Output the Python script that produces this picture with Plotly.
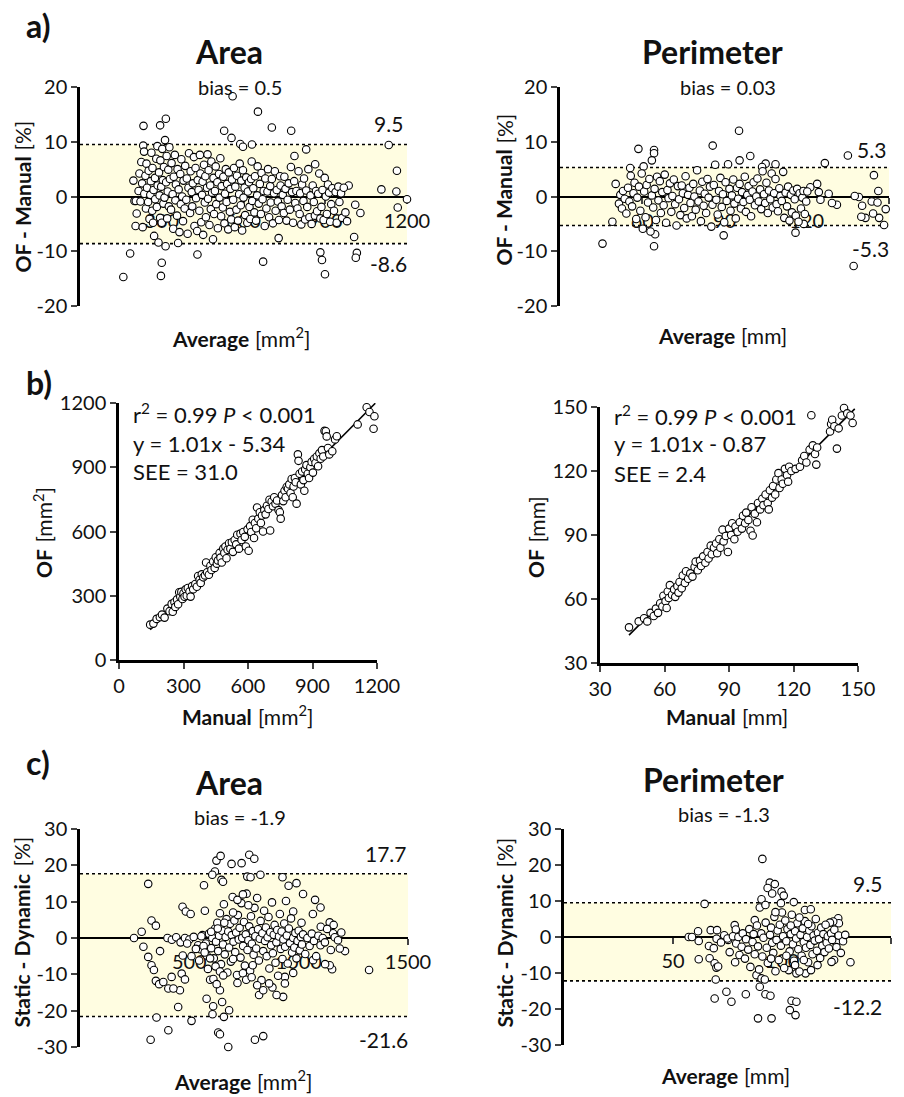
import plotly.graph_objects as go

W, H = 904, 1097
FONT = "Lato"

# ---------------- DATA ----------------
# a) Bland-Altman OF - Manual, Area  (average mm^2, difference %)
a_area_pts = [
    (159,-14.7),(184,-10.4),(233,12.9),(294,13.0),(315,14.2),(300,-12.1),(297,-14.5),(560,18.3),(653,15.5),
    (704,12.6),(775,12.0),(529,12.0),(556,10.7),(631,9.5),(588,9.6),(598,9.1),(431,-10.6),(672,-11.9),
    (882,-10.2),(888,-11.6),(899,-14.2),(1006,-7.4),(1016,-10.3),(1012,-11.2),(1133,9.4),(1163,4.7),
    (1161,0.9),(1166,-2.0),(1200,-0.5),(1106,1.3),(986,2.0),(1010,-1.5),(1029,-3.0),(863,5.9),(830,8.6),
    (787,7.4),(729,-7.6),
    (196,2.9),(200,-0.8),(205,-0.8),(204,-5.4),(208,-3.1),(215,1.0),(218,4.2),(222,-0.9),(225,6.3),(228,2.4),
    (230,-5.6),(232,9.3),(235,8.2),(236,0.5),(240,3.8),(242,-2.2),(244,6.0),(246,1.6),(250,-1.0),(252,4.7),
    (255,-4.1),(258,0.3),(260,2.8),(262,8.0),(265,-2.6),(266,5.2),(268,-4.8),(270,1.2),(272,-7.2),(275,3.4),
    (276,-0.5),(280,6.9),(282,-1.9),(284,9.2),(285,2.0),(288,-8.4),(290,4.4),(292,0.2),(294,-3.9),(295,6.6),
    (298,1.8),(300,-4.8),(302,8.7),(304,3.0),(306,-1.3),(308,5.4),(310,-0.2),(312,10.3),(314,-9.1),(316,2.6),
    (318,7.4),(320,-4.0),(322,0.9),(324,4.9),(326,-1.8),(328,9.0),(330,3.2),
    (334,-2.4),(336,6.1),(340,0.4),(342,-5.9),(344,3.6),(348,7.6),(350,-0.7),(352,2.2),(356,-3.5),(358,5.0),
    (360,-8.5),(362,1.3),(365,-6.5),(368,4.1),(370,-1.4),(372,6.8),(375,0.0),(378,-4.5),(380,2.9),(384,-2.2),
    (386,5.6),(390,-0.6),(392,3.3),(395,-6.8),(398,1.6),(400,7.9),(404,-3.0),(406,4.6),(410,0.8),(412,-1.8),
    (414,2.4),(418,7.2),(420,-5.4),(424,5.2),(426,-0.3),(430,-6.3),(432,3.0),(435,1.2),(438,-2.6),(440,7.6),
    (442,4.2),(445,-4.7),(448,0.3),(450,2.7),(452,-7.0),(455,5.8),(458,-1.1),(460,3.7),(462,-3.8),(466,1.6),
    (468,7.7),(470,-0.4),(472,4.8),(475,-5.2),(478,2.0),(480,-2.3),(482,6.4),(485,0.7),(488,-7.8),(490,3.4),
    (492,-3.2),(495,1.0),(498,5.5),(500,-1.4),(504,2.6),(506,-5.8),(510,4.1),(512,-0.2),(515,7.0),(518,-3.6),
    (520,1.9),(524,-2.0),(526,3.6),(530,-4.9),(532,0.5),(535,5.0),(538,-1.0),(540,2.3),(544,-6.0),(546,4.4),
    (550,-2.8),(552,1.4),(555,-4.2),(558,3.1),
    (562,-0.6),(565,5.2),(568,-5.6),(570,1.8),(574,-2.4),(576,3.8),(580,-4.4),(584,0.4),(586,6.0),(590,-1.6),
    (592,2.9),(595,-6.2),(598,4.8),(600,-0.2),(604,1.6),(606,-3.4),(610,3.5),(614,-4.8),(616,0.9),(620,2.6),
    (622,-1.9),(625,-4.1),(628,3.2),(630,6.4),(632,-0.8),(636,1.5),(640,-2.9),(642,3.7),(646,-4.4),(650,0.2),
    (652,5.5),(656,-1.3),(660,2.3),(664,-3.2),(666,4.3),(670,-0.5),(674,1.0),(678,-5.4),(680,3.3),(684,-2.2),
    (688,0.9),(690,5.0),(694,-3.8),(698,1.9),(700,-1.1),(704,3.2),(708,-4.9),(712,0.6),(715,4.6),(718,-2.6),
    (722,1.2),(726,-0.9),(730,-4.3),(734,3.7),(736,2.0),(740,-1.8),(744,0.3),(748,-3.0),(750,3.6),(754,1.4),
    (758,-4.4),(762,-0.6),(766,2.4),(770,-2.4),(774,5.4),(778,0.8),(782,-4.8),(786,2.8),(790,-1.2),(794,1.0),
    (798,-2.2),
    (802,4.6),(806,-3.2),(808,0.6),(812,-5.1),(815,2.2),(820,-0.8),(822,3.3),(826,-4.2),(830,1.1),(834,-1.9),
    (838,5.0),(842,-3.8),(846,0.2),(850,-5.0),(854,2.0),(858,-1.0),(862,-3.5),(866,1.0),(870,-2.7),(874,0.5),
    (878,4.2),(882,-4.0),(886,-1.9),(890,1.2),(894,-4.3),(898,3.4),(902,0.0),(906,-3.2),(910,2.2),(914,0.7),
    (918,-4.6),(922,-1.4),(926,1.5),(932,-2.6),(938,0.8),(942,-4.8),(948,1.8),(952,-1.0),(958,0.6),(962,-3.9),
    (968,1.6),(974,-2.9),(980,-4.5),
]
a_area_bias, a_area_upper, a_area_lower = 0.5, 9.5, -8.6

# a) Perimeter (average mm, difference %)
a_perim_pts = [
    (45.5,-8.6),(49.1,-4.6),(50.3,2.3),(58.6,8.7),(64.3,8.5),(64.3,7.9),(63.5,6.6),(60.5,5.5),(55.6,5.2),
    (64.3,-9.1),(64.7,-6.9),(85.7,9.3),(95.3,12.0),(95.5,6.6),(99.4,7.4),(89.7,-7.1),(126.6,6.1),(135.0,7.5),
    (137.1,-12.7),(144.5,3.9),(146.1,1.0),(148.8,-2.3),(148.2,-5.2),(146.4,-3.9),(144.2,-3.1),(140.2,-1.7),
    (139.0,-0.1),(137.5,0.1),(141.4,-3.9),(139.9,-3.7),(143.7,-0.9),(145.8,-1.1),(131.0,-1.5),(129.2,-1.2),
    (128.0,0.5),(124.4,0.8),(123.8,2.3),(121.3,1.7),(125.0,-0.6),(115.9,-6.6),(118.9,-5.0),(108.6,5.9),
    (105.0,6.0),(103.7,5.4),
    (51.5,-1.3),(52,0.3),(52.6,-2.2),(53,1.0),(53.6,-0.4),(54.2,-3.1),(54.8,1.6),(55.3,-0.9),(55.8,3.8),
    (56.3,-1.8),(56.8,0.6),(57.2,2.5),(57.8,-4.1),(58.2,-0.2),(58.8,1.8),(59.3,-2.6),(59.8,4.2),(60.2,-5.9),
    (60.7,0.9),(61.2,-3.8),(61.6,2.1),(62.1,-1.1),(62.6,3.2),(63,-6.4),(63.5,0.2),(64,-2.0),(64.5,1.4),
    (65,-4.3),(65.4,3.6),(65.9,-0.7),(66.4,2.8),(66.8,-3.0),(67.3,0.8),(67.8,-1.6),(68.2,4.0),(68.7,-4.8),
    (69.2,1.2),(69.6,-0.3),(70.1,2.4),(70.6,-2.8),(71,0.1),(71.5,3.1),(72,-1.4),(72.5,-5.3),(73,1.9),
    (73.4,-0.5),(73.9,-3.4),(74.4,2.0),(74.8,0.6),(75.3,-2.1),(75.8,3.7),(76.2,-4.0),(76.7,0.3),(77.2,1.6),
    (77.6,-1.2),(78.1,-3.6),(78.6,2.3),(79,0.0),(79.5,-2.4),(80,4.8),(80.5,-0.9),(81,1.1),(81.4,-4.5),
    (81.9,2.7),(82.4,-1.7),(82.8,0.5),(83.3,-3.0),(83.8,3.2),(84.2,-0.2),(84.7,1.8),(85.2,-5.5),(85.6,-1.5),
    (86.1,2.1),(86.6,5.8),(87,-0.6),(87.5,-3.3),(88,1.0),(88.5,3.4),(89,-1.9),(89.4,0.4),(89.9,-4.7),
    (90.4,2.6),(90.8,-0.8),(91.3,5.9),(91.8,1.4),(92.2,-2.6),(92.7,0.2),(93.2,3.1),(93.6,-1.3),(94.1,-4.0),
    (94.6,1.6),(95,-0.4),(95.5,2.3),(96,-2.2),(96.4,0.8),(96.9,-1.0),(97.4,3.6),(97.8,-2.8),(98.3,0.3),
    (98.8,1.9),(99.2,-0.6),(99.7,-3.6),(100.2,0.9),(100.6,2.6),(101.1,-1.6),(101.6,0.0),(102,3.3),
    (102.5,-0.9),(103,1.3),(103.4,-2.3),(103.9,4.6),(104.4,0.4),(104.8,-1.2),(105.3,2.5),(105.8,-3.0),
    (106.2,1.1),(106.7,-0.5),(107.2,4.2),(107.6,-2.0),(108.1,0.6),(108.6,3.2),(109,-1.4),(109.5,-2.7),
    (110,1.5),(110.4,0.1),(110.9,-0.8),(111.4,4.5),(111.8,-3.9),(112.3,0.7),(112.8,-1.8),(113.2,1.8),
    (113.7,-4.4),(114.2,0.3),(114.6,-2.9),(115.1,1.1),(115.6,-0.5),(116,-3.5),(116.5,1.4),(117,-4.6),
    (117.4,0.6),(117.9,-2.2),(118.4,-0.2),(118.8,1.0),(119.3,-3.2),(119.8,-0.9),(120.2,0.9),
]
a_perim_bias, a_perim_upper, a_perim_lower = 0.03, 5.3, -5.3

# b) Regression OF vs Manual, Area (mm^2)
b_area_pts = [
    (145,165),(160,170),(175,192),(190,200),(200,212),(212,198),(225,240),(235,228),(245,262),(250,225),
    (258,270),(262,248),(270,283),(275,260),(280,316),(285,295),(290,318),(295,285),(300,312),(305,295),
    (310,330),(315,300),(320,336),(328,320),(333,296),(340,345),(345,330),(355,355),(362,342),(368,392),
    (375,375),(380,360),(385,400),(392,386),(400,395),(405,455),(410,410),(418,398),(425,440),(430,420),
    (438,460),(445,430),(450,480),(455,450),(460,465),(468,500),(472,478),(478,455),(485,520),(490,500),
    (495,530),(500,475),(505,515),(512,545),(518,520),(525,550),(530,505),(538,560),(545,540),(550,585),
    (558,520),(565,590),(570,560),(578,598),(585,575),(590,530),(598,610),(603,510),(610,625),(615,598),
    (622,655),(628,570),(632,640),(638,615),(642,712),(648,660),(655,690),(660,640),(665,675),(670,600),
    (676,700),(682,680),(688,720),(695,705),(700,748),(703,605),(710,740),(716,718),(722,760),(728,730),
    (735,745),(742,700),(748,690),(752,660),(758,770),(764,742),(770,790),(775,760),(780,808),(786,800),
    (792,820),(798,780),(803,845),(808,760),(812,810),(818,850),(822,830),(826,730),(832,960),(835,930),
    (840,870),(846,820),(852,880),(858,840),(862,790),(866,890),(872,910),(878,870),(884,850),(890,900),
    (896,925),(902,875),(908,940),(914,920),(920,950),(926,905),(932,965),(938,940),(944,980),(950,950),
    (956,1070),(962,1068),(966,1044),(972,990),(978,960),(992,975),(1005,1030),(1013,1045),(1110,1100),
    (1152,1180),(1165,1158),(1188,1138),(1184,1080),
]
b_area_fit = dict(slope=1.01, intercept=-5.34, x_from=145, x_to=1192)

# b) Regression OF vs Manual, Perimeter (mm)
b_perim_pts = [
    (43.5,46.7),(48,49.5),(50.5,51),(52,49.5),(53.5,53.5),(55,52),(56,55.5),(57,53.5),(58,58),(59,56.5),
    (59.5,61.5),(60.5,59),(61,55.8),(61.5,63.5),(62,60.5),(62.5,66.5),(63.5,62),(64.5,64.5),(65,61),(66,66),
    (66.5,63),(67,68),(68,65),(68.5,71),(69.5,67.5),(70,73),(71,69.5),(72,72),(73,70.5),(74,75),(74.5,77.5),
    (75.5,73.5),(76.5,78),(77,75.5),(78,80),(79,77),(80,82),(80.5,79),(81.5,85),(82,81),(83,84),(84,86),
    (84.5,81.5),(85.5,88),(86,84),(87,92.5),(87.5,87),(88.5,89.5),(89.5,82),(90,93),(91,90),(91.5,95.5),
    (92.5,88),(93,94),(94,91.5),(95,96),(96,93),(96.5,99),(97.5,95.5),(98,100.5),(99,97),(100,92),
    (100.5,103),(101,89.8),(102,100),(103,96),(103.5,105),(104.5,102),(105.5,107),(106,104),(107,109),
    (108,105),(108.5,102),(109,111),(110,107.5),(110.5,113),(111.5,109),(112,116),(113,119),(113.5,112),
    (114.5,116),(115,114),(116,121),(117,118),(117.5,115),(118,122),(119,120),(121,121),(123,122),(124,125),
    (125,127),(126,124),(127.5,130),(128.3,146.1),(129,132),(130,128),(130.6,123),(131,131),(137,138.5),
    (137.5,142),(138,144),(139,141),(140.2,130.5),(141,140),(142.5,146),(143.5,149.5),(145,147),
    (146.5,146),(147.5,142.5),
]
b_perim_fit = dict(slope=1.01, intercept=-0.87, x_from=43.5, x_to=148.5)

# c) Bland-Altman Static - Dynamic, Area (average mm^2, difference %)
c_area_pts = [
    (247,0),(282,1.7),(290,-2.4),(312,14.9),(327,4.8),(347,3.4),(312,-5.2),(327,-7.5),(338,-8.8),(347,-11.8),
    (362,-12.7),(350,-21.9),(323,-28),(404,-25.4),(366,-3.6),(381,-12.1),(404,-13.9),(419,-10.7),(449,-19),
    (510,-22.8),(469,8.6),(484,7.3),(506,6.6),(465,-9.8),(480,-11.4),(457,-14.4),(427,-13.9),(567,14.5),
    (571,7.5),(579,-16.7),(609,-18.8),(606,-21),(640,-14.4),(650,-17.6),(658,-21.7),(682,-19.9),(632,-26),
    (640,-26.5),(678,-30),(624,21.3),(643,22.6),(617,18.3),(605,17.4),(647,16),(654,15.5),(693,20.4),
    (739,20.6),(774,22.9),(797,21.8),(765,16.9),(780,16.7),(825,17.4),(800,-28),(838,-27),(926,16.7),
    (954,14.4),(990,15.1),(1020,12.1),(1075,10.5),(1100,8.4),(1065,6.6),(1013,4.2),(975,7.3),(1322,-8.8),
    (1212,-3.6),(1188,-2.9),(1195,1.5),(1157,1.3),(1142,4.3),(1160,3.6),(1101,3.1),(1153,-8.6),(1142,-7.5),
    (1121,-7.2),(1147,-3.3),(1066,-6.1),(929,-16.2),(899,-15.7),(880,-13.6),(865,-12.5),(937,-10.7),
    (975,-9.6),(937,-12.5),(819,-15.7),(838,-14.4),
    (400,0),(420,-0.5),(440,0.2),(460,-1.2),(480,0),(500,-0.4),(520,0.3),(540,-2.0),(550,-3.1),(560,0.8),
    (575,-1.5),(580,-4.8),(590,1.2),(600,-2.8),(605,0.0),(612,-5.6),(618,2.6),(622,-1.0),(628,4.2),
    (632,-3.6),(636,0.6),(640,6.8),(645,-7.2),(650,2.0),(654,-1.8),(658,9.3),(662,-4.5),(666,0.3),(670,5.2),
    (674,-9.5),(678,1.8),(682,-2.6),(686,3.9),(690,-6.5),(694,0.8),(698,11.3),(702,-1.0),(706,4.8),
    (710,-3.9),(714,1.5),(718,-10.2),(722,6.3),(726,-0.4),(730,2.8),(734,-5.4),(738,9.6),(742,0.0),
    (746,-2.2),(750,4.4),(754,-7.6),(758,1.0),(762,12.2),(766,-3.3),(770,-0.6),(774,3.2),(778,-9.0),
    (782,6.0),(786,-1.6),(790,1.9),(794,-4.6),(798,8.3),(802,0.5),(806,-2.9),(810,11.0),(814,2.4),
    (818,-6.2),(822,-0.2),(826,4.7),(830,-11.6),(834,1.3),(838,-3.6),(842,7.5),(846,-0.8),(850,2.9),
    (854,-5.0),(858,0.2),(862,5.8),(866,-8.4),(870,1.6),(874,-2.0),(878,9.8),(882,-4.2),(886,0.9),(890,3.6),
    (894,-6.8),(898,-1.2),(902,2.2),(906,-10.4),(910,0.4),(914,6.6),(918,-3.0),(922,1.8),(926,-5.8),
    (930,-0.4),(934,4.0),(938,-2.4),(942,10.2),(946,0.7),(950,-7.0),(955,2.6),(960,-1.4),(965,5.4),
    (970,-4.0),(975,0.0),(980,-2.6),(985,1.4),(990,-5.6),(995,-0.8),(1000,2.0),(1005,-3.4),(1010,0.3),
    (1015,-1.8),(1020,1.0),(1030,-4.4),(1040,0.0),(1050,-2.2),(1060,1.2),(1070,-0.8),(1080,-5.0),(1090,0.6),
    (1100,-2.0),(1110,0.0),(1120,-1.2),(1130,2.5),(1165,0.2),(1180,-0.6),
    (470,-4.8),(490,-1.5),(510,-5.0),(530,-3.0),(545,-6.2),(565,-2.2),(585,-8.5),(595,-11.5),(610,-11.3),
    (620,-7.8),(625,-12.7),(640,-9.2),(655,-10.3),(595,-5.6),(570,-4.0),(555,0.5),(600,1.7),(630,2.6),
    (660,4.2),(700,-5.8),(720,-12.4),(745,-9.7),(760,-11.5),(785,-10.8),(810,-13.0),(700,7.0),(720,10.5),
    (745,12.0),(770,9.0),(790,-7.5),
]
c_area_bias, c_area_upper, c_area_lower = -1.9, 17.7, -21.6

# c) Perimeter (average mm, difference %)
c_perim_pts = [
    (57.2,0),(58.7,0),(61.5,1.6),(61.8,-1.1),(61.8,-6.2),(64.5,9.2),(67.3,1.9),(70.2,1.9),(66.5,-2.5),
    (68.7,-3.1),(66.8,-5.9),(69.1,-7.3),(69.9,-8.5),(70.7,-8.2),(69.6,-11.8),(69.1,-17.1),(74.5,-15.2),
    (76.8,-18),(83.4,-15.9),(89,-22.6),(95.2,-22.6),(104.4,-17.7),(106.6,-18),(103.6,-20.3),(106.2,-21.7),
    (91,21.7),(94.4,15.1),(96.7,14.7),(93.4,13.6),(95.5,12.1),(99.8,12.6),(100.8,11.5),(90.6,10.5),(89.8,8.2),
    (92.4,8.9),(99.5,9.4),(105.4,9.7),(110.5,7.5),(113.2,7.7),(87.5,4.7),(78.3,3.3),(78.8,2.1),(75.3,-0.8),
    (88.3,-10.6),(90.6,-11.5),(92.1,-11.8),(89.8,-13.8),(92.4,-15.9),(94.7,-16.3),(110.8,-10.1),(113.3,-9.2),
    (106.6,-10.1),(103.1,-9.2),(131.4,-7),(125.8,5.2),(126.1,3.8),(123.5,4.3),(122,4),(124.9,-1.5),
    (123.9,-6.4),(122.7,-6.9),(118.1,-4.5),(116.3,-7.8),
    (70,-0.5),(72,-1.5),(73.5,0.5),(75,-0.4),
    (76,-4.2),(77.5,0.2),(78.5,-7.0),(79,-1.8),(80,0.0),(80.5,-5.0),(81.5,-2.7),(82,1.0),(83,-6.0),
    (83.5,-0.6),(84.5,-3.5),(85,2.2),(85.5,-8.3),(86.5,-1.4),(87,0.8),(87.5,-4.8),(88.5,3.2),(89,-2.6),
    (89.5,-9.0),(90.5,1.0),(91,-5.4),(91.5,-0.2),(92.5,4.0),(93,-3.0),(93.5,-7.2),(94.5,0.6),(95,2.6),
    (95.5,-1.6),(96,-4.4),(96.5,5.6),(97.5,-0.8),(98,1.8),(98.5,-6.4),(99,3.4),(99.5,-2.4),(100.5,0.2),
    (101,-8.6),(101.5,4.6),(102,-1.2),(102.5,2.2),(103.5,-4.0),(104,0.8),(104.5,6.2),(105,-2.0),(105.5,-6.6),
    (106,1.6),(106.5,-0.4),(107,3.8),(107.5,-3.4),(108,-9.6),(108.5,0.6),(109,-5.2),(109.5,2.4),(110,-1.4),
    (110.5,4.4),(111,-3.0),(111.5,0.0),(112,-7.0),(112.5,1.8),(113,-2.2),(113.5,3.0),(114,-4.8),(114.5,0.4),
    (115,-1.0),(115.5,5.0),(116,-3.8),(116.5,1.2),(117,-0.6),(117.5,-5.8),(118,2.6),(118.5,-2.4),(119,0.8),
    (119.5,-4.2),(120,3.4),(120.5,-1.6),(121,0.2),(121.5,-3.2),(122.5,1.0),(123,-0.8),(124,2.0),(125,-2.8),
    (126,0.4),(127,-4.4),(128,-1.2),(129,0.6),
    (95,-6.0),(97,-9.5),(100,6.8),(102,-5.2),(104,3.2),(106,-7.8),(108,5.4),(110,-6.4),(112,3.6),(97,6.9),
]
c_perim_bias, c_perim_upper, c_perim_lower = -1.3, 9.5, -12.2

# ---------------- LAYOUT HELPERS ----------------
def fx(p):
    return p / W

def fy(p):
    return 1 - p / H

def lab(v):
    return ("-%g" % abs(v)) if v < 0 else "%g" % v

fig = go.Figure()
marker = dict(size=7.5, color="white", line=dict(color="black", width=1.1))
TICK = 20
tickfont = dict(family=FONT, size=TICK, color="#111")
common_axis = dict(ticks="outside", ticklen=6, tickwidth=2, showline=True, linecolor="black",
                   showgrid=False, zeroline=False, tickfont=tickfont, fixedrange=True, automargin=False)

def add_pts(pts, k):
    xs = [p[0] for p in pts]
    ys = [p[1] for p in pts]
    fig.add_trace(go.Scatter(x=xs, y=ys, mode="markers", marker=marker, cliponaxis=False,
                             xaxis="x%d" % k, yaxis="y%d" % k, showlegend=False, hoverinfo="skip"))

def ba_panel(k, pts, xdom, ydom, xrange, xticks, yrange, yticks, lower, upper):
    xa = "xaxis%d" % k if k > 1 else "xaxis"
    ya = "yaxis%d" % k if k > 1 else "yaxis"
    zero_px = ydom[0] + (ydom[1] - ydom[0]) * (yrange[1] - 0) / (yrange[1] - yrange[0])
    fig.layout[xa] = dict(domain=[fx(xdom[0]), fx(xdom[1])], range=xrange, anchor="free",
                          position=fy(zero_px), tickvals=xticks, ticktext=[lab(v) for v in xticks],
                          linewidth=2, layer="below traces", **common_axis)
    fig.layout[ya] = dict(domain=[fy(ydom[1]), fy(ydom[0])], range=yrange, anchor="x%d" % k,
                          tickvals=yticks, ticktext=[lab(v) for v in yticks], linewidth=2.5,
                          layer="below traces", **common_axis)
    xr, yr = "x%d" % k, "y%d" % k
    fig.add_shape(type="rect", xref=xr, yref=yr, x0=xrange[0], x1=xrange[1], y0=lower, y1=upper,
                  fillcolor="#FFFDE1", line=dict(width=0), layer="below")
    for v in (lower, upper):
        fig.add_shape(type="line", xref=xr, yref=yr, x0=xrange[0], x1=xrange[1], y0=v, y1=v,
                      line=dict(color="black", width=1.6, dash="dot"), layer="below")
    add_pts(pts, k)

def reg_panel(k, pts, fit, xdom, ydom, rng, ticks):
    xa = "xaxis%d" % k
    ya = "yaxis%d" % k
    fig.layout[xa] = dict(domain=[fx(xdom[0]), fx(xdom[1])], range=rng, anchor="y%d" % k,
                          tickvals=ticks, linewidth=2.5, **common_axis)
    fig.layout[ya] = dict(domain=[fy(ydom[1]), fy(ydom[0])], range=rng, anchor="x%d" % k,
                          tickvals=ticks, linewidth=2.5, **common_axis)
    lx = [fit["x_from"], fit["x_to"]]
    ly = [fit["slope"] * v + fit["intercept"] for v in lx]
    fig.add_trace(go.Scatter(x=lx, y=ly, mode="lines", line=dict(color="black", width=1.6),
                             xaxis="x%d" % k, yaxis="y%d" % k, showlegend=False, hoverinfo="skip"))
    add_pts(pts, k)

ba_panel(1, a_area_pts, (80, 407), (87, 306), [0, 1200], [300, 600, 900, 1200], [-20, 20],
         [-20, -10, 0, 10, 20], a_area_lower, a_area_upper)
ba_panel(2, a_perim_pts, (560, 889), (87, 306), [30, 150], [60, 90, 120, 150], [-20, 20],
         [-20, -10, 0, 10, 20], a_perim_lower, a_perim_upper)
reg_panel(3, b_area_pts, b_area_fit, (119, 377), (403, 660), [0, 1200], [0, 300, 600, 900, 1200])
reg_panel(4, b_perim_pts, b_perim_fit, (600, 858), (407, 663), [30, 150], [30, 60, 90, 120, 150])
ba_panel(5, c_area_pts, (80, 408), (829, 1047), [0, 1500], [500, 1000, 1500], [-30, 30],
         [-30, -20, -10, 0, 10, 20, 30], c_area_lower, c_area_upper)
ba_panel(6, c_perim_pts, (564, 891), (829, 1045), [0, 150], [50, 100, 150], [-30, 30],
         [-30, -20, -10, 0, 10, 20, 30], c_perim_lower, c_perim_upper)

# ---------------- TEXT ----------------
def txt(s, x, y, size=18, bold=False, angle=0, xanchor="center", yanchor="middle", color="#111"):
    fig.add_annotation(text=s, x=fx(x), y=fy(y), xref="paper", yref="paper",
                       showarrow=False, xanchor=xanchor, yanchor=yanchor, textangle=angle,
                       font=dict(family=FONT, size=size, color=color, weight="bold" if bold else "normal"))

AX = 21

def xtitle(bold_part, rest, xj, ybottom):
    # bold word ends at xj, unit text starts just after it; baselines share the same bottom
    txt(bold_part, xj - 1, ybottom, size=AX, bold=True, xanchor="right", yanchor="bottom")
    txt(rest, xj + 1, ybottom, size=AX, xanchor="left", yanchor="bottom")

def ytitle(bold_part, rest, xright, yj):
    # rotated text reading bottom-to-top: bold part below the junction, unit above
    txt(bold_part, xright, yj + 1, size=AX, bold=True, angle=-90, xanchor="right", yanchor="top")
    txt(rest, xright, yj - 1, size=AX, angle=-90, xanchor="right", yanchor="bottom")

# panel letters
txt("a)", 24, 26, size=32, bold=True, xanchor="left")
txt("b)", 24, 382, size=32, bold=True, xanchor="left")
txt("c)", 24, 762, size=32, bold=True, xanchor="left")

# titles
txt("Area", 229, 52, size=32, bold=True)
txt("Perimeter", 712, 52, size=32, bold=True)
txt("Area", 229, 782, size=32, bold=True)
txt("Perimeter", 713, 779, size=32, bold=True)

# bias
txt("bias = %s" % a_area_bias, 240, 87, size=20)
txt("bias = %s" % a_perim_bias, 728, 87, size=20)
txt("bias = %s" % c_area_bias, 240, 817, size=20)
txt("bias = %s" % c_perim_bias, 724, 814, size=20)

# limits of agreement
txt("%s" % a_area_upper, 388, 124, size=21)
txt("%s" % a_area_lower, 388, 264, size=21)
txt("%s" % a_perim_upper, 871, 149, size=21)
txt("%s" % a_perim_lower, 870, 248, size=21)
txt("%s" % c_area_upper, 386, 854, size=21)
txt("%s" % c_area_lower, 383, 1039, size=21)
txt("%s" % c_perim_upper, 867, 883, size=21)
txt("%s" % c_perim_lower, 857, 1006, size=21)

# regression stats
txt("r<sup>2</sup> = 0.99 <i>P</i> &lt; 0.001", 131, 413, size=22, xanchor="left")
txt("y = 1.01x - 5.34", 131, 443, size=22, xanchor="left")
txt("SEE = 31.0", 131, 472, size=22, xanchor="left")
txt("r<sup>2</sup> = 0.99 <i>P</i> &lt; 0.001", 612, 415, size=22, xanchor="left")
txt("y = 1.01x - 0.87", 612, 443, size=22, xanchor="left")
txt("SEE = 2.4", 612, 473, size=22, xanchor="left")

# axis titles (x: junction x, bottom y ; y: right edge x, junction y)
xtitle("Average", "[mm<sup>2</sup>]", 252, 353)
xtitle("Average", "[mm]", 738, 350)
xtitle("Manual", "[mm<sup>2</sup>]", 255, 731)
xtitle("Manual", "[mm]", 739, 731)
xtitle("Average", "[mm<sup>2</sup>]", 254, 1096)
xtitle("Average", "[mm]", 741, 1090)
ytitle("OF - Manual", "[%]", 36, 154)
ytitle("OF - Manual", "[%]", 518, 147)
ytitle("OF", "[mm<sup>2</sup>]", 58, 546)
ytitle("OF", "[mm]", 550, 546)
ytitle("Static - Dynamic", "[%]", 35, 870)
ytitle("Static - Dynamic", "[%]", 518, 871)

fig.update_layout(width=W, height=H, margin=dict(l=0, r=0, t=0, b=0, autoexpand=False),
                  plot_bgcolor="white", paper_bgcolor="white", showlegend=False,
                  font=dict(family=FONT, color="#111"))

fig.write_html("out.html", config={"displayModeBar": False},
               post_script="document.body.style.margin='0';document.body.style.overflow='hidden';")
